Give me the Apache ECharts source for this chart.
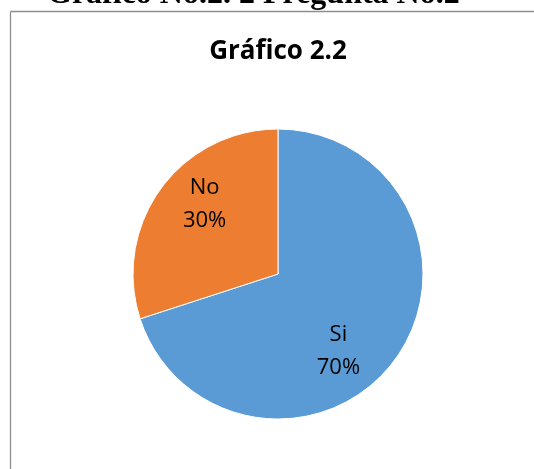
<!DOCTYPE html>
<html>
<head>
<meta charset="utf-8">
<script src="https://cdn.jsdelivr.net/npm/echarts@6/dist/echarts.min.js"></script>
<style>
html,body{margin:0;padding:0;background:#fff;overflow:hidden;}
#main{width:534px;height:469px;}
</style>
</head>
<body>
<div id="main"></div>
<script>
const heading = 'Gráfico No.2. 2 Pregunta No.2';
const chartTitle = 'Gráfico 2.2';
const categories = ['Si', 'No'];
const values = [70, 30];
const colors = ['#5B9BD5', '#ED7D31'];

const chart = echarts.init(document.getElementById('main'), null, {renderer: 'canvas'});
const CX = 278, CY = 274, R = 145;
const labelAdjust = [{rot: 16, scale: 1.3}, {rot: 7.5, scale: 1.34}];

const option = {
  backgroundColor: '#ffffff',
  animation: false,
  title: {
    text: chartTitle,
    left: 273,
    top: 34,
    textAlign: 'center',
    textStyle: {fontFamily: 'Open Sans', fontWeight: 'bold', fontSize: 26, color: '#000000'}
  },
  graphic: {
    elements: [
      {
        type: 'line',
        shape: {x1: 10.5, y1: 11.5, x2: 10.5, y2: 469},
        style: {stroke: '#8f8f8f', lineWidth: 1.3},
        silent: true
      },
      {
        type: 'line',
        shape: {x1: 10.5, y1: 11.5, x2: 534, y2: 11.5},
        style: {stroke: '#8f8f8f', lineWidth: 1.3},
        silent: true
      },
      {
        type: 'text',
        left: 47,
        top: -21,
        style: {
          text: heading,
          font: 'bold 32px "Liberation Serif"',
          fill: '#000000'
        },
        silent: true
      }
    ]
  },
  series: [{
    type: 'pie',
    center: [CX, CY],
    radius: R,
    startAngle: 90,
    clockwise: true,
    data: categories.map((c, i) => ({name: c, value: values[i], itemStyle: {color: colors[i]}})),
    itemStyle: {borderColor: '#ffffff', borderWidth: 1},
    label: {
      show: true,
      position: 'inside',
      formatter: '{b}\n{d}%',
      fontFamily: 'Open Sans',
      fontSize: 22,
      lineHeight: 33,
      color: '#000000'
    },
    labelLine: {show: false},
    labelLayout: function (p) {
      const a = labelAdjust[p.dataIndex];
      const r = p.labelRect;
      const lx = r.x + r.width / 2, ly = r.y + r.height / 2;
      const vx = (lx - CX) * a.scale, vy = (ly - CY) * a.scale;
      const t = a.rot * Math.PI / 180;
      const nx = CX + vx * Math.cos(t) - vy * Math.sin(t);
      const ny = CY + vx * Math.sin(t) + vy * Math.cos(t);
      return {dx: nx - lx, dy: ny - ly};
    }
  }]
};
chart.setOption(option);
</script>
</body>
</html>
